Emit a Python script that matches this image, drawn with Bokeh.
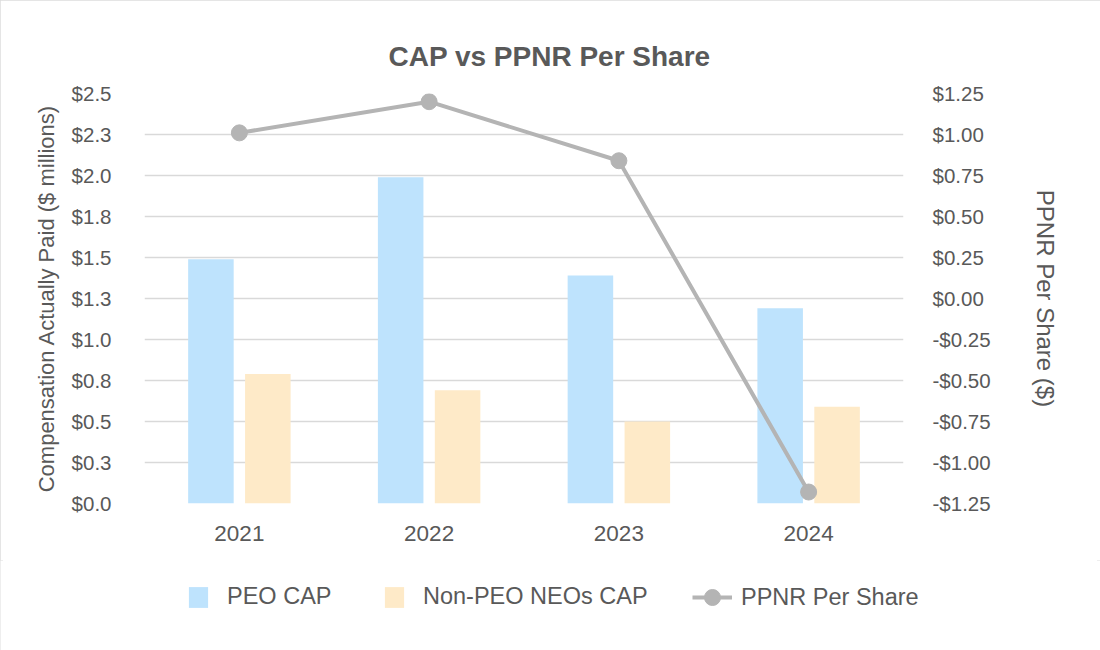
from bokeh.plotting import figure
from bokeh.layouts import column, row
from bokeh.models import (Range1d, LinearAxis, FixedTicker, Legend, LegendItem, FactorRange)
from bokeh.transform import dodge
from bokeh.embed import file_html
from bokeh.resources import INLINE

# ---- data ----
years = ["2021", "2022", "2023", "2024"]
peo_cap = [1.49, 1.99, 1.39, 1.19]
non_peo_cap = [0.79, 0.69, 0.50, 0.59]
ppnr = [1.01, 1.20, 0.84, -1.18]

left_ticks = [0.0, 0.25, 0.5, 0.75, 1.0, 1.25, 1.5, 1.75, 2.0, 2.25, 2.5]
left_labels = ["$0.0", "$0.3", "$0.5", "$0.8", "$1.0", "$1.3", "$1.5", "$1.8", "$2.0", "$2.3", "$2.5"]
right_ticks = [-1.25, -1.0, -0.75, -0.5, -0.25, 0.0, 0.25, 0.5, 0.75, 1.0, 1.25]
right_labels = ["-$1.25", "-$1.00", "-$0.75", "-$0.50", "-$0.25", "$0.00", "$0.25", "$0.50", "$0.75", "$1.00", "$1.25"]

FONT = "Liberation Sans"
TXT = "#595959"
GRID = "#D9D9D9"
BLUE = "#BEE3FD"
PEACH = "#FEEAC8"
LINE = "#B4B4B4"

p = figure(width=1100, height=560, x_range=FactorRange(*years), y_range=Range1d(0, 2.5),
           output_backend="svg", toolbar_location=None,
           min_border_left=144, min_border_right=197, min_border_top=93, min_border_bottom=57)
p.extra_y_ranges = {"right": Range1d(-1.25, 1.25)}
p.x_range.range_padding = 0
p.outline_line_color = None

p.title.text = "CAP vs PPNR Per Share"
p.title.text_font = FONT
p.title.text_font_size = "28px"
p.title.text_font_style = "bold"
p.title.text_color = TXT
p.title.align = "left"
p.title.offset = 244
p.title.standoff = 44

p.vbar(x=dodge("x", -0.15, range=p.x_range), top="top", width=0.24,
       source=dict(x=years, top=peo_cap), fill_color=BLUE, line_color=None)
p.vbar(x=dodge("x", 0.15, range=p.x_range), top="top", width=0.24,
       source=dict(x=years, top=non_peo_cap), fill_color=PEACH, line_color=None)
p.line(years, ppnr, y_range_name="right", line_color=LINE, line_width=4)
p.scatter(years, ppnr, y_range_name="right", size=16, fill_color=LINE, line_color=LINE)

# axes
ya = p.yaxis[0]
ya.ticker = FixedTicker(ticks=left_ticks)
ya.major_label_overrides = {t: l for t, l in zip(left_ticks, left_labels)}
ya.axis_label = "Compensation Actually Paid ($ millions)"
ya.axis_label_text_font_size = "22px"
ya.axis_label_text_font_style = "normal"
ya.axis_label_standoff = 10
ya.major_label_standoff = 33

ra = LinearAxis(y_range_name="right", ticker=FixedTicker(ticks=right_ticks))
ra.major_label_overrides = {t: l for t, l in zip(right_ticks, right_labels)}
ra.axis_label = "PPNR Per Share ($)"
ra.axis_label_text_font_size = "24px"
ra.axis_label_text_font_style = "normal"
ra.axis_label_standoff = 38
ra.major_label_standoff = 29
p.add_layout(ra, "right")

for ax in [ya, ra]:
    ax.major_label_text_font_size = "20.5px"

xa = p.xaxis[0]
xa.major_label_text_font_size = "22.5px"
xa.major_label_standoff = 22

for ax in [ya, ra, xa]:
    ax.axis_line_color = None
    ax.major_tick_line_color = None
    ax.minor_tick_line_color = None
    ax.major_tick_out = 0
    ax.major_tick_in = 0
    ax.major_label_text_font = FONT
    ax.major_label_text_color = TXT
    ax.axis_label_text_font = FONT
    ax.axis_label_text_color = TXT

p.xgrid.grid_line_color = None
p.ygrid.ticker = FixedTicker(ticks=left_ticks)
p.ygrid.grid_line_color = GRID
p.ygrid.grid_line_width = 1.5

# ---- legend strip (separate figure so the legend is not clipped) ----
q = figure(width=1100, height=90, x_range=Range1d(0, 1), y_range=Range1d(0, 1),
           output_backend="svg", toolbar_location=None,
           x_axis_location=None, y_axis_location=None,
           min_border_left=0, min_border_right=0, min_border_top=0, min_border_bottom=0)
q.outline_line_color = None
q.grid.visible = False
# hidden placeholder glyphs (outside the strip's range) that only feed the legend
lb1 = q.vbar(x=[5], top=[5], width=0.1, fill_color=BLUE, line_color=None)
lb2 = q.vbar(x=[5], top=[5], width=0.1, fill_color=PEACH, line_color=None)
ll = q.line(x=[5, 6], y=[5, 6], line_color=LINE, line_width=4)
ls = q.scatter(x=[5], y=[5], size=16, fill_color=LINE, line_color=LINE)

def mk_legend(items, loc, gw, gh, standoff):
    lg = Legend(items=items, location=loc, orientation="horizontal",
                glyph_width=gw, glyph_height=gh, label_standoff=standoff,
                padding=0, margin=0, border_line_color=None, background_fill_alpha=0,
                label_text_font=FONT, label_text_font_size="23.5px", label_text_color=TXT)
    q.add_layout(lg, "center")

mk_legend([LegendItem(label="PEO CAP", renderers=[lb1])], (186, 40), 24, 26, 17)
mk_legend([LegendItem(label="Non-PEO NEOs CAP", renderers=[lb2])], (382, 40), 24, 26, 17)
mk_legend([LegendItem(label="PPNR Per Share", renderers=[ll, ls])], (692, 33), 40, 40, 9)

layout = column(p, row(q, spacing=0), spacing=0)
layout.styles = {"outline": "3px solid #DCDCDC", "outline-offset": "-3px"}

open("out.html", "w").write(file_html(layout, INLINE))
